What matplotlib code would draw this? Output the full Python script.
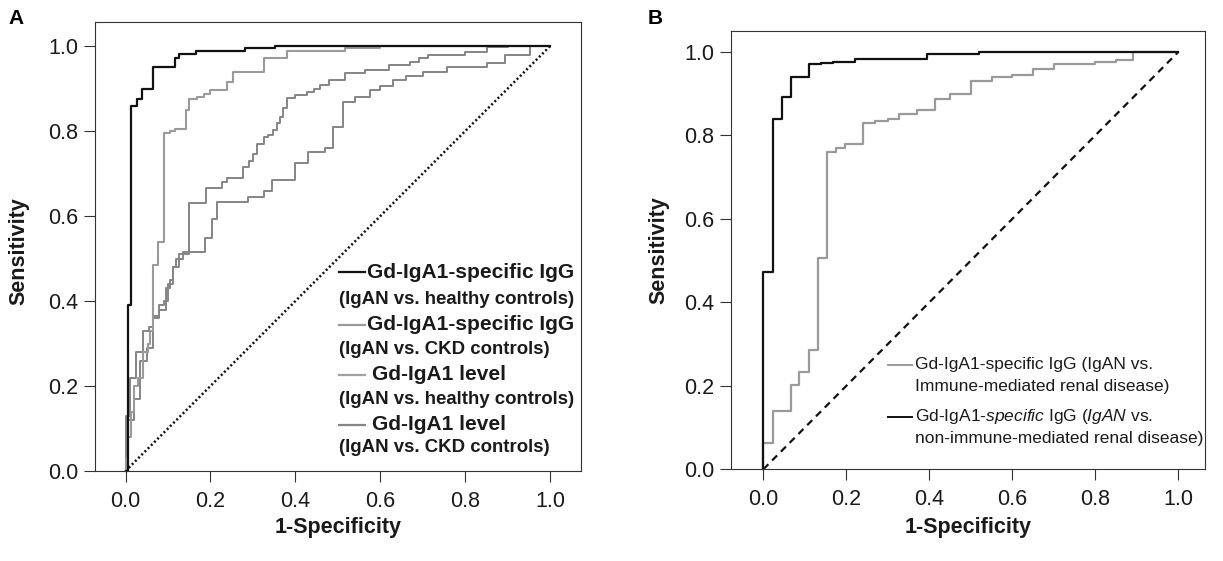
import matplotlib
matplotlib.use('Agg')
import matplotlib.pyplot as plt
from matplotlib.lines import Line2D

W, H = 1223, 561

# ROC steps: (1-specificity where the curve jumps, sensitivity after the jump)
a_igg_hc_x = [0, 0.005, 0.013, 0.026, 0.038, 0.064, 0.117, 0.126, 0.166, 0.281, 0.352, 1.0]
a_igg_hc_y = [0, 0.39, 0.86, 0.875, 0.9, 0.95, 0.973, 0.981, 0.988, 0.995, 1.0, 1.0]

a_igg_ckd_x = [0, 0.0, 0.005, 0.013, 0.02, 0.03, 0.042, 0.053, 0.058, 0.064, 0.077, 0.091, 0.105,
               0.117, 0.142, 0.15, 0.169, 0.185, 0.2, 0.238, 0.252, 0.326, 0.38, 0.517, 0.6, 1.0]
a_igg_ckd_y = [0, 0.03, 0.08, 0.14, 0.2, 0.22, 0.28, 0.3, 0.33, 0.485, 0.54, 0.795, 0.8,
               0.806, 0.849, 0.875, 0.881, 0.887, 0.896, 0.916, 0.94, 0.971, 0.989, 0.995, 1.0, 1.0]

a_lvl_hc_x = [0, 0.0, 0.01, 0.025, 0.04, 0.055, 0.064, 0.08, 0.095, 0.105, 0.112, 0.125, 0.15, 0.189,
              0.227, 0.238, 0.276, 0.29, 0.3, 0.31, 0.325, 0.335, 0.348, 0.356, 0.364, 0.372, 0.38,
              0.4, 0.427, 0.443, 0.458, 0.48, 0.517, 0.564, 0.62, 0.67, 0.69, 0.713, 0.8, 0.851, 0.9, 1.0]
a_lvl_hc_y = [0, 0.13, 0.22, 0.28, 0.33, 0.34, 0.365, 0.38, 0.43, 0.45, 0.48, 0.51, 0.63, 0.665,
              0.68, 0.69, 0.716, 0.73, 0.745, 0.77, 0.785, 0.79, 0.802, 0.82, 0.834, 0.855, 0.877,
              0.885, 0.892, 0.9, 0.908, 0.92, 0.936, 0.944, 0.955, 0.963, 0.972, 0.979, 0.987, 0.998, 1.0, 1.0]

a_lvl_ckd_x = [0, 0.005, 0.02, 0.035, 0.05, 0.064, 0.078, 0.09, 0.1, 0.112, 0.12, 0.135, 0.187, 0.203,
               0.215, 0.289, 0.325, 0.344, 0.4, 0.43, 0.47, 0.489, 0.513, 0.54, 0.576, 0.6, 0.63,
               0.66, 0.7, 0.757, 0.851, 0.894, 0.953, 1.0]
a_lvl_ckd_y = [0, 0.12, 0.17, 0.26, 0.29, 0.36, 0.39, 0.4, 0.44, 0.48, 0.5, 0.515, 0.548, 0.592,
               0.634, 0.645, 0.66, 0.686, 0.724, 0.751, 0.76, 0.81, 0.869, 0.88, 0.896, 0.905, 0.92,
               0.93, 0.94, 0.951, 0.96, 0.979, 1.0, 1.0]

b_imm_x = [0, 0.0, 0.023, 0.067, 0.087, 0.111, 0.131, 0.153, 0.175, 0.197, 0.24, 0.27, 0.3, 0.328,
           0.37, 0.414, 0.45, 0.5, 0.55, 0.6, 0.65, 0.7, 0.8, 0.85, 0.89, 1.0]
b_imm_y = [0, 0.062, 0.14, 0.202, 0.234, 0.286, 0.505, 0.761, 0.77, 0.779, 0.83, 0.835, 0.84, 0.851,
           0.86, 0.887, 0.9, 0.93, 0.94, 0.945, 0.96, 0.97, 0.975, 0.98, 1.0, 1.0]

b_non_x = [0, 0.0, 0.024, 0.044, 0.066, 0.111, 0.14, 0.169, 0.221, 0.394, 0.52, 1.0]
b_non_y = [0, 0.473, 0.838, 0.892, 0.939, 0.97, 0.973, 0.976, 0.984, 0.994, 1.0, 1.0]

diag = [0, 1]
ticks = [0.0, 0.2, 0.4, 0.6, 0.8, 1.0]

legA_main = ['Gd-IgA1-specific IgG', 'Gd-IgA1-specific IgG', 'Gd-IgA1 level', 'Gd-IgA1 level']
legA_sub = ['(IgAN vs. healthy controls)', '(IgAN vs. CKD controls)',
            '(IgAN vs. healthy controls)', '(IgAN vs. CKD controls)']
legB_main = ['Gd-IgA1-specific IgG (IgAN vs.',
             r'Gd-IgA1-$\mathit{specific}$ IgG ($\mathit{IgAN}$ vs.']
legB_sub = ['Immune-mediated renal disease)', 'non-immune-mediated renal disease)']

plt.rcParams['font.family'] = ['Liberation Sans', 'DejaVu Sans']
plt.rcParams['mathtext.fontset'] = 'custom'
plt.rcParams['mathtext.rm'] = 'Liberation Sans'
plt.rcParams['mathtext.it'] = 'Liberation Sans:italic'

BLACK = '#111111'
GRAY2 = '#9a9a9a'
GRAY3 = '#858585'

fig = plt.figure(figsize=(W / 100, H / 100), dpi=100)
axA = fig.add_axes([94.7 / W, (H - 471) / H, (580.7 - 94.7) / W, (471 - 22.3) / H])
axB = fig.add_axes([730.7 / W, (H - 469.3) / H, (1205 - 730.7) / W, (469.3 - 30.7) / H])


def style(ax, xlim, ylim):
    ax.set_xlim(*xlim)
    ax.set_ylim(*ylim)
    ax.set_xticks(ticks)
    ax.set_yticks(ticks)
    ax.set_xticklabels(['%.1f' % t for t in ticks])
    ax.set_yticklabels(['%.1f' % t for t in ticks])
    ax.tick_params(direction='out', length=8, width=0.8, labelsize=15.5,
                   colors='#333333', labelcolor='#1a1a1a')
    ax.tick_params(axis='x', pad=6.5)
    ax.tick_params(axis='y', pad=4)
    for s in ax.spines.values():
        s.set_linewidth(0.8)
        s.set_color('#333333')
    ax.set_xlabel('1-Specificity', fontsize=15.5, fontweight='bold', color='#1a1a1a')
    ax.set_ylabel('Sensitivity', fontsize=15.5, fontweight='bold', color='#1a1a1a')


style(axA, (-0.0726, 1.072), (0, 1.056))
style(axB, (-0.0786, 1.064), (0, 1.0506))
axA.yaxis.set_label_coords(-0.135, 0.49)
axA.xaxis.set_label_coords(0.5, -0.1025)
axB.yaxis.set_label_coords(-0.130, 0.5)
axB.xaxis.set_label_coords(0.5, -0.109)

# panel A
axA.plot(diag, diag, color=BLACK, lw=1.8, linestyle=(0, (0.8, 1.0)), clip_on=False)
axA.plot(a_lvl_ckd_x, a_lvl_ckd_y, drawstyle='steps-post', color=GRAY3, lw=1.4, clip_on=False)
axA.plot(a_lvl_hc_x, a_lvl_hc_y, drawstyle='steps-post', color=GRAY3, lw=1.4, clip_on=False)
axA.plot(a_igg_ckd_x, a_igg_ckd_y, drawstyle='steps-post', color=GRAY2, lw=1.5, clip_on=False)
axA.plot(a_igg_hc_x, a_igg_hc_y, drawstyle='steps-post', color=BLACK, lw=1.6, clip_on=False)

# panel B
axB.plot(diag, diag, color=BLACK, lw=1.6, linestyle=(0, (3.2, 2.4)), clip_on=False)
axB.plot(b_imm_x, b_imm_y, drawstyle='steps-post', color=GRAY2, lw=1.6, clip_on=False)
axB.plot(b_non_x, b_non_y, drawstyle='steps-post', color=BLACK, lw=1.6, clip_on=False)


def handle(x0, x1, y, color, lw=1.6):
    fig.add_artist(Line2D([x0 / W, x1 / W], [1 - y / H, 1 - y / H],
                          transform=fig.transFigure, color=color, lw=lw))


def ftext(x, y, s, **kw):
    fig.text(x / W, 1 - y / H, s, va='center', ha='left', color='#1a1a1a', **kw)


# legend A
legA_colors = [BLACK, GRAY2, '#a0a0a0', GRAY3]
main_y = [272, 325, 375, 425]
sub_y = [300, 350, 400, 447]
main_x = [367, 367, 372, 372]
for i in range(4):
    handle(339, 365, main_y[i], legA_colors[i])
    ftext(main_x[i], main_y[i], legA_main[i], fontsize=15, fontweight='bold')
    ftext(339, sub_y[i], legA_sub[i], fontsize=13.4, fontweight='bold')

# legend B
legB_colors = [GRAY2, BLACK]
bmain_y = [365, 417]
bsub_y = [387, 438]
for i in range(2):
    handle(888, 912, bmain_y[i], legB_colors[i], lw=1.4)
    ftext(915, bmain_y[i], legB_main[i], fontsize=12.5)
    ftext(915, bsub_y[i], legB_sub[i], fontsize=12.5)

fig.text(16 / W, 1 - 18 / H, 'A', fontsize=15, fontweight='bold', ha='center', va='center')
fig.text(655 / W, 1 - 18 / H, 'B', fontsize=15, fontweight='bold', ha='center', va='center')

fig.savefig('out.png', dpi=100)
